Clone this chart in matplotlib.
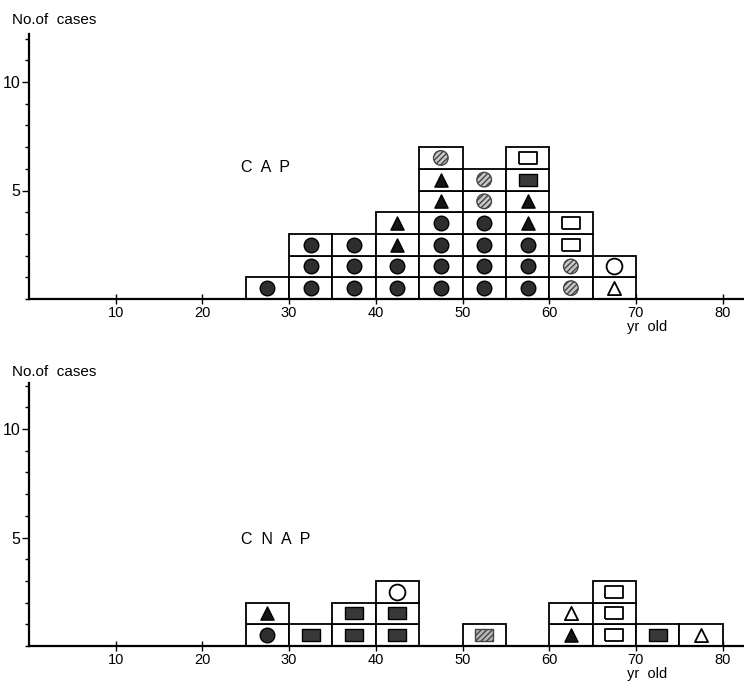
import matplotlib
matplotlib.use('Agg')
import matplotlib.pyplot as plt
from matplotlib.ticker import MultipleLocator

plt.rcParams['font.family'] = ['Liberation Sans', 'DejaVu Sans']

# age groups (left edge of each 5-year box) and the stacked cases, bottom to top
# dc = dark circle, hc = hatched circle, oc = open circle
# ft = filled triangle, ot = open triangle
# fs = filled rectangle, hs = hatched rectangle, os = open rectangle
cap_ages = [25, 30, 35, 40, 45, 50, 55, 60, 65]
cap_cases = [
    ['dc'],
    ['dc', 'dc', 'dc'],
    ['dc', 'dc', 'dc'],
    ['dc', 'dc', 'ft', 'ft'],
    ['dc', 'dc', 'dc', 'dc', 'ft', 'ft', 'hc'],
    ['dc', 'dc', 'dc', 'dc', 'hc', 'hc'],
    ['dc', 'dc', 'dc', 'ft', 'ft', 'fs', 'os'],
    ['hc', 'hc', 'os', 'os'],
    ['ot', 'oc'],
]

cnap_ages = [25, 30, 35, 40, 50, 60, 65, 70, 75]
cnap_cases = [
    ['dc', 'ft'],
    ['fs'],
    ['fs', 'fs'],
    ['fs', 'fs', 'oc'],
    ['hs'],
    ['ft', 'ot'],
    ['os', 'os', 'os'],
    ['fs'],
    ['ot'],
]

xticks = [10, 20, 30, 40, 50, 60, 70, 80]
bin_width = 5

rect = [(-1.5, -1), (1.5, -1), (1.5, 1), (-1.5, 1), (-1.5, -1)]
styles = {
    'dc': dict(marker='o', s=110, facecolors='#2e2e2e', edgecolors='black', linewidths=1.0),
    'hc': dict(marker='o', s=110, facecolors='#c8c8c8', edgecolors='#444444', linewidths=1.0, hatch='//////'),
    'oc': dict(marker='o', s=130, facecolors='white', edgecolors='black', linewidths=1.3),
    'ft': dict(marker='^', s=90, facecolors='#151515', edgecolors='black', linewidths=1.0),
    'ot': dict(marker='^', s=90, facecolors='white', edgecolors='black', linewidths=1.3),
    'fs': dict(marker=rect, s=170, facecolors='#383838', edgecolors='black', linewidths=1.0),
    'hs': dict(marker=rect, s=170, facecolors='#b8b8b8', edgecolors='#444444', linewidths=1.0, hatch='//////'),
    'os': dict(marker=rect, s=170, facecolors='white', edgecolors='black', linewidths=1.3),
}

W, H = 744, 683
fig = plt.figure(figsize=(W / 100, H / 100), dpi=100)


def panel(base_px, top_px, ages, cases, label, label_y):
    ax = fig.add_axes([29 / W, (H - base_px) / H, (W - 29) / W, (base_px - top_px) / H])
    ymax = (base_px - top_px) / 21.7
    ax.set_xlim(0, (W - 29) / 8.67)
    ax.set_ylim(0, ymax)

    for age, stack in zip(ages, cases):
        n = len(stack)
        ax.bar([age] * n, [1] * n, bottom=list(range(n)), width=bin_width, align='edge',
               facecolor='white', edgecolor='black', linewidth=1.3, zorder=2)

    for key, st in styles.items():
        xs, ys = [], []
        for age, stack in zip(ages, cases):
            for row, k in enumerate(stack):
                if k == key:
                    xs.append(age + bin_width / 2)
                    ys.append(row + 0.5)
        if xs:
            ax.scatter(xs, ys, zorder=3, **st)

    for side in ['top', 'right']:
        ax.spines[side].set_visible(False)
    ax.spines['left'].set_linewidth(1.6)
    ax.spines['bottom'].set_linewidth(1.6)

    ax.set_xticks(xticks)
    ax.set_xticklabels([str(t) for t in xticks], fontsize=10.5)
    ax.tick_params(axis='x', direction='inout', length=7, width=1.0, pad=1.5)
    ax.yaxis.set_minor_locator(MultipleLocator(1))
    ax.set_yticks([5, 10])
    ax.set_yticklabels(['5', '10'], fontsize=11.5)
    ax.tick_params(axis='y', which='major', direction='out', length=5, width=1.0, pad=1)
    ax.tick_params(axis='y', which='minor', direction='out', length=3, width=1.0)

    ax.text(24.5, label_y, '  '.join(label), fontsize=11.5, va='center', ha='left')
    ax.annotate('yr  old', xy=(71.3, 0), xytext=(0, -28), textcoords='offset pixels',
                ha='center', va='center', fontsize=10.5, annotation_clip=False)
    return ax


panel(299, 34, cap_ages, cap_cases, 'CAP', 6.05)
panel(646, 383, cnap_ages, cnap_cases, 'CNAP', 4.9)

fig.text(12 / W, 1 - 20 / H, 'No.of  cases', fontsize=11, va='center', ha='left')
fig.text(12 / W, 1 - 372 / H, 'No.of  cases', fontsize=11, va='center', ha='left')

fig.savefig('out.png', dpi=100)
